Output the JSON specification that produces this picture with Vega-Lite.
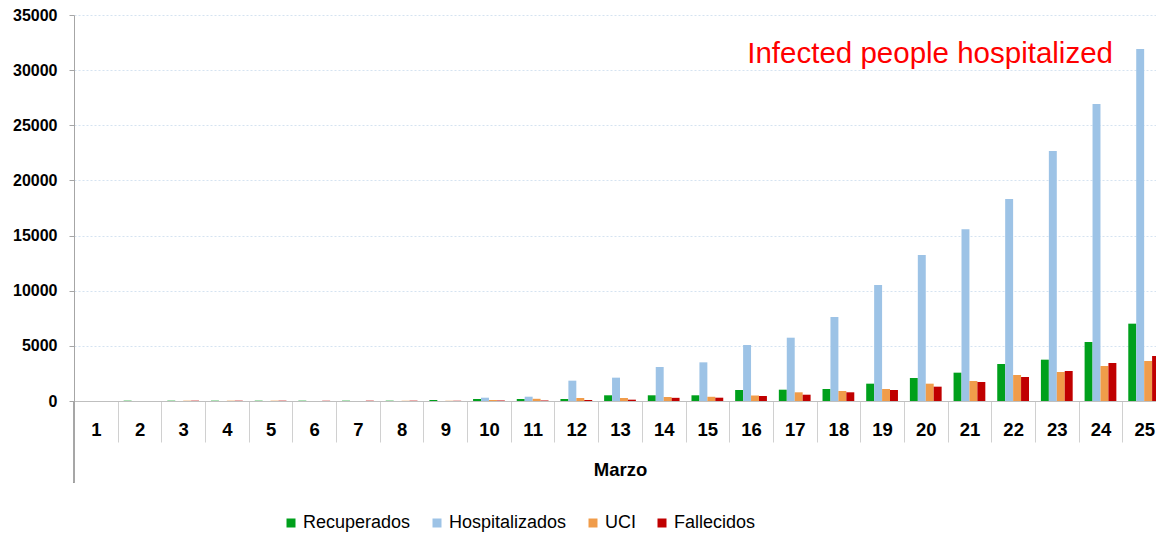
{
  "$schema": "https://vega.github.io/schema/vega-lite/v6.json",
  "width": 1092,
  "height": 386,
  "autosize": {"type": "none"},
  "padding": {"left": 74, "top": 15, "right": 0, "bottom": 134},
  "background": "white",
  "config": {"view": {"stroke": null}},
  "title": {
    "text": "Infected people hospitalized",
    "color": "#ff0000",
    "font": "Liberation Sans",
    "fontSize": 29.5,
    "fontWeight": "normal",
    "anchor": "end",
    "frame": "group",
    "orient": "top",
    "baseline": "alphabetic",
    "offset": -85,
    "dx": -53
  },
  "data": {
    "values": [
      {"dia": 1, "serie": "Recuperados", "valor": 0},
      {"dia": 1, "serie": "Hospitalizados", "valor": 0},
      {"dia": 1, "serie": "UCI", "valor": 0},
      {"dia": 1, "serie": "Fallecidos", "valor": 0},
      {"dia": 2, "serie": "Recuperados", "valor": 30},
      {"dia": 2, "serie": "Hospitalizados", "valor": 0},
      {"dia": 2, "serie": "UCI", "valor": 0},
      {"dia": 2, "serie": "Fallecidos", "valor": 0},
      {"dia": 3, "serie": "Recuperados", "valor": 30},
      {"dia": 3, "serie": "Hospitalizados", "valor": 0},
      {"dia": 3, "serie": "UCI", "valor": 30},
      {"dia": 3, "serie": "Fallecidos", "valor": 30},
      {"dia": 4, "serie": "Recuperados", "valor": 30},
      {"dia": 4, "serie": "Hospitalizados", "valor": 0},
      {"dia": 4, "serie": "UCI", "valor": 30},
      {"dia": 4, "serie": "Fallecidos", "valor": 30},
      {"dia": 5, "serie": "Recuperados", "valor": 30},
      {"dia": 5, "serie": "Hospitalizados", "valor": 0},
      {"dia": 5, "serie": "UCI", "valor": 30},
      {"dia": 5, "serie": "Fallecidos", "valor": 30},
      {"dia": 6, "serie": "Recuperados", "valor": 30},
      {"dia": 6, "serie": "Hospitalizados", "valor": 0},
      {"dia": 6, "serie": "UCI", "valor": 0},
      {"dia": 6, "serie": "Fallecidos", "valor": 30},
      {"dia": 7, "serie": "Recuperados", "valor": 30},
      {"dia": 7, "serie": "Hospitalizados", "valor": 0},
      {"dia": 7, "serie": "UCI", "valor": 0},
      {"dia": 7, "serie": "Fallecidos", "valor": 30},
      {"dia": 8, "serie": "Recuperados", "valor": 30},
      {"dia": 8, "serie": "Hospitalizados", "valor": 0},
      {"dia": 8, "serie": "UCI", "valor": 30},
      {"dia": 8, "serie": "Fallecidos", "valor": 30},
      {"dia": 9, "serie": "Recuperados", "valor": 90},
      {"dia": 9, "serie": "Hospitalizados", "valor": 0},
      {"dia": 9, "serie": "UCI", "valor": 30},
      {"dia": 9, "serie": "Fallecidos", "valor": 30},
      {"dia": 10, "serie": "Recuperados", "valor": 183},
      {"dia": 10, "serie": "Hospitalizados", "valor": 300},
      {"dia": 10, "serie": "UCI", "valor": 100},
      {"dia": 10, "serie": "Fallecidos", "valor": 40},
      {"dia": 11, "serie": "Recuperados", "valor": 183},
      {"dia": 11, "serie": "Hospitalizados", "valor": 390},
      {"dia": 11, "serie": "UCI", "valor": 200},
      {"dia": 11, "serie": "Fallecidos", "valor": 55},
      {"dia": 12, "serie": "Recuperados", "valor": 189},
      {"dia": 12, "serie": "Hospitalizados", "valor": 1843},
      {"dia": 12, "serie": "UCI", "valor": 272},
      {"dia": 12, "serie": "Fallecidos", "valor": 84},
      {"dia": 13, "serie": "Recuperados", "valor": 517},
      {"dia": 13, "serie": "Hospitalizados", "valor": 2116},
      {"dia": 13, "serie": "UCI", "valor": 272},
      {"dia": 13, "serie": "Fallecidos", "valor": 120},
      {"dia": 14, "serie": "Recuperados", "valor": 517},
      {"dia": 14, "serie": "Hospitalizados", "valor": 3083},
      {"dia": 14, "serie": "UCI", "valor": 363},
      {"dia": 14, "serie": "Fallecidos", "valor": 288},
      {"dia": 15, "serie": "Recuperados", "valor": 517},
      {"dia": 15, "serie": "Hospitalizados", "valor": 3506},
      {"dia": 15, "serie": "UCI", "valor": 382},
      {"dia": 15, "serie": "Fallecidos", "valor": 300},
      {"dia": 16, "serie": "Recuperados", "valor": 997},
      {"dia": 16, "serie": "Hospitalizados", "valor": 5077},
      {"dia": 16, "serie": "UCI", "valor": 498},
      {"dia": 16, "serie": "Fallecidos", "valor": 452},
      {"dia": 17, "serie": "Recuperados", "valor": 1025},
      {"dia": 17, "serie": "Hospitalizados", "valor": 5740},
      {"dia": 17, "serie": "UCI", "valor": 789},
      {"dia": 17, "serie": "Fallecidos", "valor": 571},
      {"dia": 18, "serie": "Recuperados", "valor": 1088},
      {"dia": 18, "serie": "Hospitalizados", "valor": 7616},
      {"dia": 18, "serie": "UCI", "valor": 907},
      {"dia": 18, "serie": "Fallecidos", "valor": 789},
      {"dia": 19, "serie": "Recuperados", "valor": 1571},
      {"dia": 19, "serie": "Hospitalizados", "valor": 10518},
      {"dia": 19, "serie": "UCI", "valor": 1088},
      {"dia": 19, "serie": "Fallecidos", "valor": 997},
      {"dia": 20, "serie": "Recuperados", "valor": 2085},
      {"dia": 20, "serie": "Hospitalizados", "valor": 13238},
      {"dia": 20, "serie": "UCI", "valor": 1571},
      {"dia": 20, "serie": "Fallecidos", "valor": 1300},
      {"dia": 21, "serie": "Recuperados", "valor": 2569},
      {"dia": 21, "serie": "Hospitalizados", "valor": 15565},
      {"dia": 21, "serie": "UCI", "valor": 1813},
      {"dia": 21, "serie": "Fallecidos", "valor": 1723},
      {"dia": 22, "serie": "Recuperados", "valor": 3355},
      {"dia": 22, "serie": "Hospitalizados", "valor": 18315},
      {"dia": 22, "serie": "UCI", "valor": 2357},
      {"dia": 22, "serie": "Fallecidos", "valor": 2176},
      {"dia": 23, "serie": "Recuperados", "valor": 3747},
      {"dia": 23, "serie": "Hospitalizados", "valor": 22667},
      {"dia": 23, "serie": "UCI", "valor": 2629},
      {"dia": 23, "serie": "Fallecidos", "valor": 2720},
      {"dia": 24, "serie": "Recuperados", "valor": 5349},
      {"dia": 24, "serie": "Hospitalizados", "valor": 26929},
      {"dia": 24, "serie": "UCI", "valor": 3173},
      {"dia": 24, "serie": "Fallecidos", "valor": 3445},
      {"dia": 25, "serie": "Recuperados", "valor": 7012},
      {"dia": 25, "serie": "Hospitalizados", "valor": 31915},
      {"dia": 25, "serie": "UCI", "valor": 3627},
      {"dia": 25, "serie": "Fallecidos", "valor": 4080}
    ]
  },
  "layer": [
    {
      "mark": {"type": "bar"},
      "encoding": {
        "x": {
          "field": "dia",
          "type": "ordinal",
          "scale": {"paddingInner": 0, "paddingOuter": 0},
          "axis": {
            "title": "Marzo",
            "titleFont": "Liberation Sans",
            "titleFontSize": 18.5,
            "titleFontWeight": "bold",
            "titleColor": "#000000",
            "titleBaseline": "alphabetic",
            "titleY": 74,
            "labelAngle": 0,
            "labelFont": "Liberation Sans",
            "labelFontSize": 18.5,
            "labelFontWeight": "bold",
            "labelColor": "#000000",
            "labelBaseline": "alphabetic",
            "labelPadding": -6.7,
            "tickBand": "extent",
            "tickSize": 41,
            "tickColor": "#d0d0d0",
            "tickWidth": 1,
            "domainColor": "#bfbfbf",
            "grid": false
          }
        },
        "xOffset": {
          "field": "serie",
          "type": "nominal",
          "sort": ["Recuperados", "Hospitalizados", "UCI", "Fallecidos"],
          "scale": {"paddingInner": 0, "paddingOuter": 0.75}
        },
        "y": {
          "field": "valor",
          "type": "quantitative",
          "scale": {"domain": [0, 35000], "nice": false},
          "axis": {
            "title": null,
            "values": [0, 5000, 10000, 15000, 20000, 25000, 30000, 35000],
            "format": "d",
            "labelFont": "Liberation Sans",
            "labelFontSize": 16,
            "labelFontWeight": "bold",
            "labelColor": "#000000",
            "labelPadding": 12,
            "tickSize": 5,
            "tickColor": "#a6a6a6",
            "domainColor": "#a6a6a6",
            "grid": true,
            "gridColor": "#d5e3f1",
            "gridDash": [2, 2]
          }
        },
        "color": {
          "field": "serie",
          "type": "nominal",
          "scale": {
            "domain": ["Recuperados", "Hospitalizados", "UCI", "Fallecidos"],
            "range": ["#00a01c", "#9dc3e6", "#f09c4a", "#c00000"]
          },
          "legend": {
            "title": null,
            "orient": "none",
            "direction": "horizontal",
            "legendX": 208,
            "legendY": 499,
            "symbolType": "square",
            "symbolSize": 81,
            "symbolStrokeWidth": 0,
            "labelFont": "Liberation Sans",
            "labelFontSize": 18,
            "labelColor": "#000000",
            "labelOffset": 3,
            "columnPadding": 17
          }
        }
      }
    },
    {
      "mark": {"type": "rule", "color": "#a6a6a6", "strokeWidth": 1, "clip": false},
      "encoding": {
        "x": {"datum": 1, "type": "ordinal", "bandPosition": 0, "title": null},
        "y": {"datum": 0, "type": "quantitative", "title": null},
        "y2": {"datum": -7350}
      }
    }
  ]
}
